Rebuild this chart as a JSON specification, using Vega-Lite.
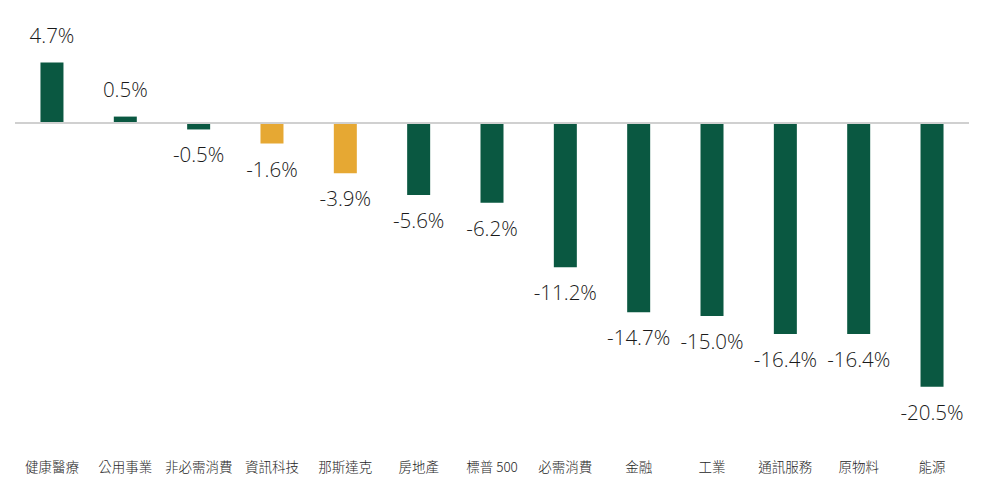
{
  "$schema": "https://vega.github.io/schema/vega-lite/v6.json",
  "autosize": "none",
  "width": 953.4,
  "height": 386.1,
  "padding": {"left": 15.3, "top": 45.8, "right": 16.3, "bottom": 62.1},
  "background": "white",
  "config": {"view": {"stroke": null}},
  "data": {
    "values": [
      {"cat": "健康醫療", "v": 4.7, "label": "4.7%", "grp": "sector"},
      {"cat": "公用事業", "v": 0.5, "label": "0.5%", "grp": "sector"},
      {"cat": "非必需消費", "v": -0.5, "label": "-0.5%", "grp": "sector"},
      {"cat": "資訊科技", "v": -1.6, "label": "-1.6%", "grp": "highlight"},
      {"cat": "那斯達克", "v": -3.9, "label": "-3.9%", "grp": "highlight"},
      {"cat": "房地產", "v": -5.6, "label": "-5.6%", "grp": "sector"},
      {"cat": "標普 500", "v": -6.2, "label": "-6.2%", "grp": "sector"},
      {"cat": "必需消費", "v": -11.2, "label": "-11.2%", "grp": "sector"},
      {"cat": "金融", "v": -14.7, "label": "-14.7%", "grp": "sector"},
      {"cat": "工業", "v": -15.0, "label": "-15.0%", "grp": "sector"},
      {"cat": "通訊服務", "v": -16.4, "label": "-16.4%", "grp": "sector"},
      {"cat": "原物料", "v": -16.4, "label": "-16.4%", "grp": "sector"},
      {"cat": "能源", "v": -20.5, "label": "-20.5%", "grp": "sector"}
    ]
  },
  "encoding": {
    "x": {
      "field": "cat", "type": "nominal", "sort": null, "title": null,
      "scale": {"paddingInner": 0, "paddingOuter": 0},
      "axis": {
        "domain": false, "ticks": false, "labelAngle": 0, "labelPadding": 28.6,
        "labelFont": "Noto Sans CJK TC", "labelFontSize": 13.5, "labelFontWeight": 300, "labelColor": "#262626",
        "grid": false
      }
    }
  },
  "layer": [
    {
      "mark": {"type": "bar", "width": 23},
      "encoding": {
        "y": {"field": "v", "type": "quantitative", "scale": {"domain": [-24, 6], "nice": false, "zero": true}, "axis": null},
        "color": {"field": "grp", "type": "nominal", "scale": {"domain": ["sector", "highlight"], "range": ["#0a5841", "#e6a833"]}, "legend": null}
      }
    },
    {
      "mark": {"type": "rule", "color": "#d0d0d0", "strokeWidth": 2},
      "encoding": {"x": null, "y": {"datum": 0, "type": "quantitative"}}
    },
    {
      "transform": [{"filter": "datum.v >= 0"}],
      "mark": {"type": "text", "baseline": "middle", "align": "center", "dy": -26, "font": "Open Sans", "fontSize": 20.5, "fontWeight": 300, "color": "#1a1a1a"},
      "encoding": {
        "y": {"field": "v", "type": "quantitative"},
        "text": {"field": "label"}
      }
    },
    {
      "transform": [{"filter": "datum.v < 0"}],
      "mark": {"type": "text", "baseline": "middle", "align": "center", "dy": 27, "font": "Open Sans", "fontSize": 20.5, "fontWeight": 300, "color": "#1a1a1a"},
      "encoding": {
        "y": {"field": "v", "type": "quantitative"},
        "text": {"field": "label"}
      }
    }
  ]
}
